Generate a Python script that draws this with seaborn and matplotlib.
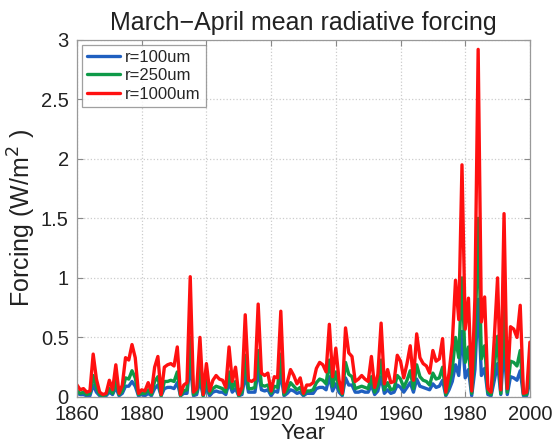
import numpy as np
import pandas as pd
import matplotlib
matplotlib.use("Agg")
import matplotlib.pyplot as plt
import seaborn as sns

years = list(range(1860, 2001))

r1000 = [
    0.10, 0.06, 0.07, 0.04, 0.05, 0.36, 0.15, 0.04, 0.02, 0.03,
    0.14, 0.06, 0.27, 0.03, 0.10, 0.33, 0.31, 0.44, 0.33, 0.03,
    0.06, 0.05, 0.12, 0.04, 0.25, 0.34, 0.02, 0.25, 0.27, 0.28,
    0.26, 0.42, 0.02, 0.10, 0.12, 1.01, 0.04, 0.07, 0.50, 0.02,
    0.28, 0.05, 0.14, 0.18, 0.15, 0.14, 0.08, 0.42, 0.13, 0.25,
    0.02, 0.08, 0.69, 0.14, 0.13, 0.15, 0.78, 0.20, 0.18, 0.20,
    0.05, 0.17, 0.16, 0.72, 0.04, 0.12, 0.23, 0.18, 0.11, 0.16,
    0.03, 0.10, 0.10, 0.12, 0.24, 0.29, 0.27, 0.21, 0.61, 0.17,
    0.41, 0.14, 0.03, 0.58, 0.37, 0.34, 0.13, 0.15, 0.18, 0.15,
    0.13, 0.34, 0.08, 0.19, 0.62, 0.11, 0.23, 0.12, 0.13, 0.35,
    0.30, 0.16, 0.28, 0.43, 0.14, 0.53, 0.33, 0.28, 0.26, 0.20,
    0.39, 0.30, 0.32, 0.49, 0.04, 0.20, 0.45, 0.98, 0.65, 1.95,
    0.57, 0.83, 0.05, 0.83, 2.92, 0.63, 0.84, 0.07, 0.04, 0.50,
    1.00, 0.06, 1.54, 0.07, 0.59, 0.57, 0.50, 0.77, 0.03, 0.04,
    0.46,
]

r250 = [
    0.05, 0.03, 0.04, 0.02, 0.03, 0.18, 0.08, 0.02, 0.01, 0.02,
    0.07, 0.03, 0.14, 0.02, 0.05, 0.16, 0.15, 0.22, 0.16, 0.02,
    0.03, 0.03, 0.06, 0.02, 0.13, 0.17, 0.01, 0.13, 0.13, 0.14,
    0.13, 0.21, 0.01, 0.05, 0.06, 0.50, 0.02, 0.04, 0.25, 0.01,
    0.14, 0.03, 0.07, 0.09, 0.08, 0.07, 0.04, 0.21, 0.07, 0.13,
    0.01, 0.04, 0.35, 0.07, 0.07, 0.08, 0.39, 0.10, 0.09, 0.10,
    0.03, 0.09, 0.08, 0.36, 0.02, 0.06, 0.12, 0.09, 0.06, 0.08,
    0.02, 0.05, 0.05, 0.06, 0.12, 0.15, 0.14, 0.11, 0.31, 0.09,
    0.21, 0.07, 0.02, 0.29, 0.19, 0.17, 0.07, 0.08, 0.09, 0.08,
    0.07, 0.17, 0.04, 0.10, 0.31, 0.06, 0.12, 0.06, 0.07, 0.18,
    0.15, 0.08, 0.14, 0.22, 0.07, 0.27, 0.17, 0.14, 0.13, 0.10,
    0.20, 0.15, 0.16, 0.25, 0.02, 0.10, 0.23, 0.50, 0.33, 1.00,
    0.29, 0.42, 0.03, 0.42, 1.50, 0.32, 0.43, 0.04, 0.02, 0.26,
    0.51, 0.03, 0.78, 0.04, 0.30, 0.29, 0.26, 0.39, 0.02, 0.02,
    0.24,
]

r100 = [
    0.03, 0.02, 0.02, 0.01, 0.01, 0.10, 0.04, 0.01, 0.01, 0.01,
    0.04, 0.02, 0.08, 0.01, 0.03, 0.09, 0.09, 0.13, 0.09, 0.01,
    0.02, 0.01, 0.03, 0.01, 0.07, 0.10, 0.01, 0.07, 0.08, 0.08,
    0.07, 0.12, 0.01, 0.03, 0.03, 0.28, 0.01, 0.02, 0.14, 0.01,
    0.08, 0.01, 0.04, 0.05, 0.04, 0.04, 0.02, 0.12, 0.04, 0.07,
    0.01, 0.02, 0.19, 0.04, 0.04, 0.04, 0.22, 0.06, 0.05, 0.06,
    0.01, 0.05, 0.04, 0.20, 0.01, 0.03, 0.06, 0.05, 0.03, 0.04,
    0.01, 0.03, 0.03, 0.03, 0.07, 0.08, 0.08, 0.06, 0.17, 0.05,
    0.11, 0.04, 0.01, 0.16, 0.10, 0.10, 0.04, 0.04, 0.05, 0.04,
    0.04, 0.10, 0.02, 0.05, 0.17, 0.03, 0.06, 0.03, 0.04, 0.10,
    0.08, 0.04, 0.08, 0.12, 0.04, 0.15, 0.09, 0.08, 0.07, 0.06,
    0.11, 0.08, 0.09, 0.14, 0.01, 0.06, 0.13, 0.27, 0.18, 0.55,
    0.16, 0.23, 0.01, 0.23, 0.82, 0.18, 0.24, 0.02, 0.01, 0.14,
    0.28, 0.02, 0.43, 0.02, 0.17, 0.16, 0.14, 0.22, 0.01, 0.01,
    0.13,
]

series_names = ["r=100um", "r=250um", "r=1000um"]
series_colors = ["#1f5fc0", "#0e9a48", "#ff1010"]
x_ticks = [1860, 1880, 1900, 1920, 1940, 1960, 1980, 2000]
y_ticks = [0, 0.5, 1, 1.5, 2, 2.5, 3]
y_tick_labels = ["0", "0.5", "1", "1.5", "2", "2.5", "3"]

df = pd.DataFrame({
    "Year": years * 3,
    "Forcing": r100 + r250 + r1000,
    "series": [series_names[0]] * len(years) + [series_names[1]] * len(years)
              + [series_names[2]] * len(years),
})

sns.set_style("white")
plt.rcParams["font.family"] = ["Liberation Sans", "DejaVu Sans"]

fig = plt.figure(figsize=(5.52, 4.43), dpi=100)
ax = fig.add_axes([0.1395, 0.104, 0.8205, 0.806])

sns.lineplot(data=df, x="Year", y="Forcing", hue="series",
             hue_order=series_names, palette=series_colors,
             linewidth=2.4, ax=ax)

ax.set_xlim(1860, 2000)
ax.set_ylim(0, 3)
ax.set_xticks(x_ticks)
ax.set_xticklabels([str(t) for t in x_ticks])
ax.set_yticks(y_ticks)
ax.set_yticklabels(y_tick_labels)
ax.tick_params(direction="in", length=4, width=0.8, colors="#888888",
               labelcolor="#222222", labelsize=14.5, top=True, right=True,
               bottom=True, left=True)
ax.tick_params(axis="x", pad=6)
ax.tick_params(axis="y", pad=6)
ax.grid(True, linestyle=":", color="#cccccc", linewidth=0.9)
for s in ax.spines.values():
    s.set_color("#999999")
    s.set_linewidth(0.9)

ax.set_title("March\u2212April mean radiative forcing", fontsize=18,
             color="#222222", pad=7)
ax.set_xlabel("Year", fontsize=16, color="#222222", labelpad=-1)
ax.set_ylabel("Forcing (W/m$^{2}$ )", fontsize=18, color="#222222", labelpad=2)

leg = ax.legend(loc="upper left", fontsize=12, frameon=True, fancybox=False,
                handlelength=2.0, borderpad=0.3, labelspacing=0.2,
                handletextpad=0.3, borderaxespad=0.3)
leg.get_frame().set_edgecolor("#888888")
leg.get_frame().set_linewidth(0.9)
for line in leg.get_lines():
    line.set_linewidth(2.4)

fig.savefig("out.png", dpi=100)
